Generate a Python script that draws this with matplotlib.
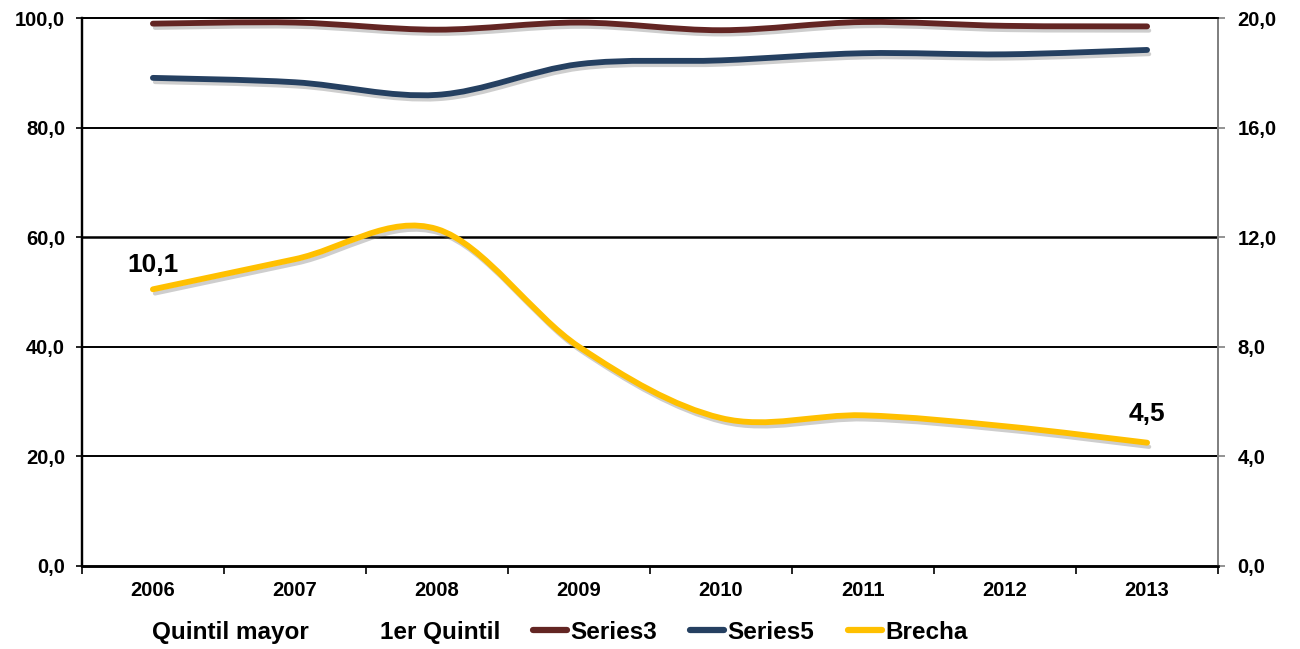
import numpy as np
import matplotlib
matplotlib.use('Agg')
import matplotlib.pyplot as plt
from matplotlib.path import Path
from matplotlib.patches import PathPatch
from matplotlib.lines import Line2D
import matplotlib.patheffects as pe

plt.rcParams['font.family'] = ['Liberation Sans', 'DejaVu Sans']
plt.rcParams['font.weight'] = 'bold'

# Datos
anios = ['2006', '2007', '2008', '2009', '2010', '2011', '2012', '2013']
series3 = [99.0, 99.2, 97.9, 99.2, 97.8, 99.3, 98.6, 98.5]
series5 = [89.1, 88.3, 86.0, 91.6, 92.3, 93.6, 93.4, 94.2]
brecha = [10.1, 11.2, 12.3, 8.0, 5.4, 5.5, 5.1, 4.5]


def curva_suave(xs, ys):
    # Curva Bezier tipo Excel (linea suavizada) a partir de los puntos
    pts = np.column_stack([xs, ys]).astype(float)
    n = len(pts)
    verts = [pts[0]]
    codes = [Path.MOVETO]
    for i in range(n - 1):
        p0 = pts[max(i - 1, 0)]
        p1 = pts[i]
        p2 = pts[i + 1]
        p3 = pts[min(i + 2, n - 1)]
        c1 = p1 + (p2 - p0) / 6.0
        c2 = p2 - (p3 - p1) / 6.0
        verts += [c1, c2, p2]
        codes += [Path.CURVE4] * 3
    return Path(verts, codes)


x = np.arange(len(anios))

fig = plt.figure(figsize=(13, 6.49), dpi=100)
ax = fig.add_axes([0.063, 0.128, 0.874, 0.844])
ax2 = ax.twinx()

ax.set_xlim(-0.5, 7.5)
ax.set_ylim(0, 100)
ax2.set_ylim(0, 20)

sombra = [pe.SimpleLineShadow(offset=(1.5, -3), shadow_color='0.45', alpha=0.35, linewidth=3.0),
          pe.Normal()]

colores = {'s3': '#632523', 's5': '#254061', 'br': '#FFC000'}

for datos, col, eje in [(series3, colores['s3'], ax), (series5, colores['s5'], ax), (brecha, colores['br'], ax2)]:
    patch = PathPatch(curva_suave(x, datos), facecolor='none', edgecolor=col,
                      linewidth=4.2, capstyle='round', joinstyle='round', zorder=3)
    patch.set_path_effects(sombra)
    eje.add_patch(patch)

# Etiquetas de datos
ax2.annotate('10,1', (x[0], brecha[0]), xytext=(0, 9), textcoords='offset points',
             ha='center', va='bottom', fontsize=19, fontweight='bold')
ax2.annotate('4,5', (x[-1], brecha[-1]), xytext=(0, 12), textcoords='offset points',
             ha='center', va='bottom', fontsize=19, fontweight='bold')

# Cuadricula
for v in [20, 40, 60, 80]:
    ax.axhline(v, color='black', linewidth=1.8 if v == 60 else 1.4, zorder=1)

# Ejes
ax.set_yticks(np.arange(0, 101, 20))
ax.set_yticklabels([f'{v:.1f}'.replace('.', ',') for v in np.arange(0, 101, 20)])
ax2.set_yticks(np.arange(0, 21, 4))
ax2.set_yticklabels([f'{v:.1f}'.replace('.', ',') for v in np.arange(0, 21, 4)])

ax.set_xticks(x)
ax.set_xticklabels(anios)
ax.set_xticks(np.arange(-0.5, 8.0, 1.0), minor=True)
ax.tick_params(axis='x', which='major', length=0, pad=11, labelsize=14.5)
ax.tick_params(axis='x', which='minor', length=6, width=1.2, direction='out')
ax.tick_params(axis='y', length=4, width=1.2, direction='out', labelsize=14.5, pad=8)
ax2.tick_params(axis='y', length=5, width=1.2, color='#808080', direction='out', labelsize=14.5, pad=9)

for lab in ax.get_xticklabels() + ax.get_yticklabels() + ax2.get_yticklabels():
    lab.set_fontweight('bold')

for eje in (ax, ax2):
    eje.spines['left'].set_color('black')
    eje.spines['left'].set_linewidth(1.6)
    eje.spines['bottom'].set_color('black')
    eje.spines['bottom'].set_linewidth(1.8)
    eje.spines['top'].set_color('black')
    eje.spines['top'].set_linewidth(1.3)
    eje.spines['right'].set_color('#808080')
    eje.spines['right'].set_linewidth(1.3)

# Leyenda (colocada a mano como en el original)
ley_y = 0.026
ley_items = [
    ('Quintil mayor', None, 152),
    ('1er Quintil', None, 380),
    ('Series3', colores['s3'], 570),
    ('Series5', colores['s5'], 727),
    ('Brecha', colores['br'], 885),
]
W = 1300.0
for texto, col, px in ley_items:
    if col is not None:
        fig.add_artist(Line2D([(px - 37) / W, (px - 3) / W], [ley_y + 0.003, ley_y + 0.003],
                              color=col, linewidth=4.5, solid_capstyle='round',
                              transform=fig.transFigure))
    fig.text(px / W, ley_y, texto, ha='left', va='center', fontsize=17.5, fontweight='bold')

fig.savefig('out.png', dpi=100)
